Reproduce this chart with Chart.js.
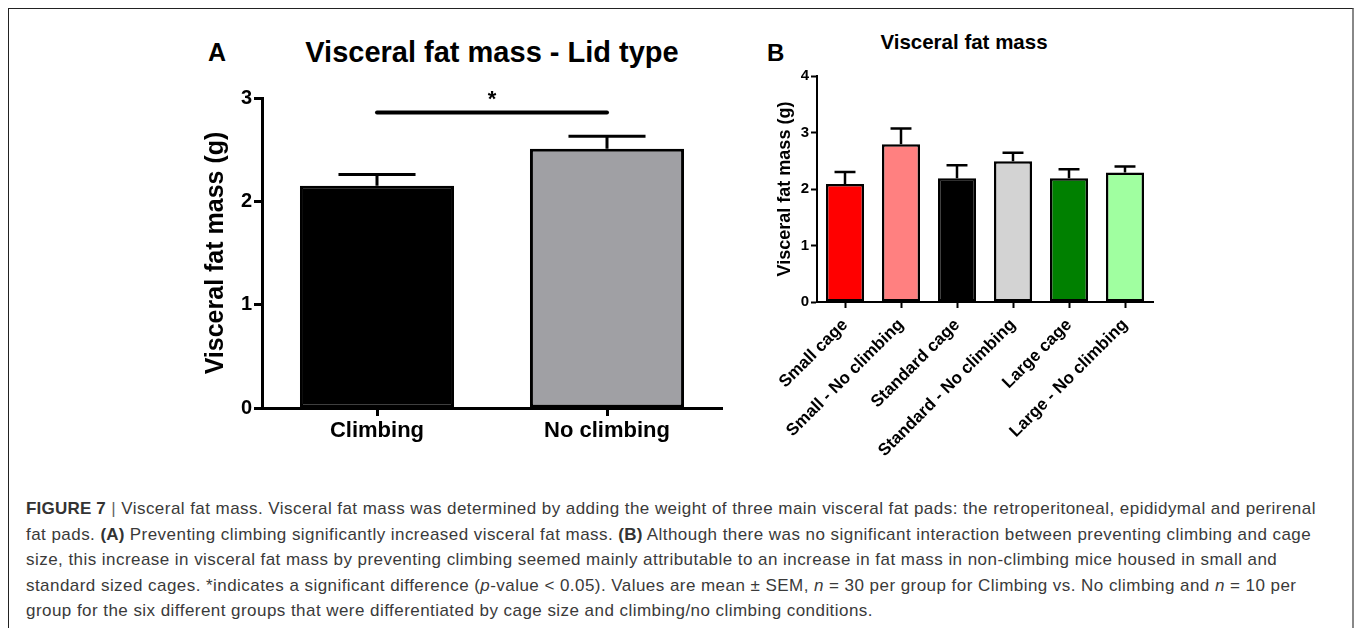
<!DOCTYPE html>
<html>
<head>
<meta charset="utf-8">
<script src="https://cdn.jsdelivr.net/npm/chart.js@4"></script>
<style>
  body { margin: 0; background: #fff; width: 1354px; height: 628px; overflow: hidden; position: relative; font-family: "Liberation Sans", Arial, sans-serif; }
  .frame { position: absolute; left: 8px; top: 8px; width: 1343px; height: 700px; border-top: 1.5px solid #222; border-left: 1.5px solid #222; border-right: 2px solid #888; }
  .lbl { position: absolute; font-weight: bold; color: #000; white-space: nowrap; line-height: 1; }
  #wrapA { position: absolute; left: 190px; top: 0; width: 540px; height: 470px; }
  #wrapB { position: absolute; left: 750px; top: 0; width: 420px; height: 470px; }
  .caption { position: absolute; left: 26px; top: 496px; font-size: 17px; letter-spacing: 0.45px; line-height: 25.5px; color: #3a3a3a; white-space: nowrap; }
  .caption b { color: #333; letter-spacing: 0.2px; }
</style>
</head>
<body>
<div class="frame"></div>

<div class="lbl" style="left:208px; top:40px; font-size:25px;">A</div>
<div class="lbl" style="left:492px; top:38px; font-size:29px; transform:translateX(-50%);">Visceral fat mass - Lid type</div>
<div class="lbl" style="left:767px; top:41px; font-size:24px;">B</div>
<div class="lbl" style="left:964px; top:32px; font-size:20.5px; transform:translateX(-50%);">Visceral fat mass</div>

<div id="wrapA"><canvas id="chartA"></canvas></div>
<div id="wrapB"><canvas id="chartB"></canvas></div>

<div class="caption">
<b>FIGURE 7</b> <span style="color:#666">|</span> Visceral fat mass. Visceral fat mass was determined by adding the weight of three main visceral fat pads: the retroperitoneal, epididymal and perirenal<br>
fat pads. <b>(A)</b> Preventing climbing significantly increased visceral fat mass. <b>(B)</b> Although there was no significant interaction between preventing climbing and cage<br>
size, this increase in visceral fat mass by preventing climbing seemed mainly attributable to an increase in fat mass in non-climbing mice housed in small and<br>
standard sized cages. *indicates a significant difference (<i>p</i>-value &lt; 0.05). Values are mean ± SEM, <i>n</i> = 30 per group for Climbing vs. No climbing and <i>n</i> = 10 per<br>
group for the six different groups that were differentiated by cage size and climbing/no climbing conditions.
</div>

<script>
// panel A: lid type
const lidLabels = ['Climbing', 'No climbing'];
const lidMeans = [2.15, 2.51];
const lidSem = [0.11, 0.12];
const lidColors = ['#000000', '#a0a0a4'];
const lidTicks = [0, 1, 2, 3];
const sigPair = [0, 1];
const sigValue = 2.86;

// panel B: cage size
const cageLabels = ['Small cage', 'Small - No climbing', 'Standard cage', 'Standard - No climbing', 'Large cage', 'Large - No climbing'];
const cageMeans = [2.09, 2.79, 2.19, 2.49, 2.19, 2.29];
const cageSem = [0.21, 0.28, 0.23, 0.15, 0.16, 0.11];
const cageColors = ['#ff0000', '#ff8080', '#000000', '#d3d3d3', '#008000', '#a0ffa0'];
const cageTicks = [0, 1, 2, 3, 4];

Chart.defaults.font.family = '"Liberation Sans", Arial, sans-serif';
Chart.defaults.font.weight = 'bold';
Chart.defaults.color = '#000';

// sem above the bar, GraphPad style
const errorBars = {
  id: 'errorBars',
  afterDatasetsDraw(chart, args, opts) {
    const ctx = chart.ctx;
    const meta = chart.getDatasetMeta(0);
    const y = chart.scales.y;
    ctx.save();
    ctx.strokeStyle = '#000';
    ctx.lineWidth = opts.lineWidth;
    ctx.lineCap = 'butt';
    meta.data.forEach((bar, i) => {
      const top = y.getPixelForValue(opts.means[i] + opts.sem[i]);
      const half = bar.width * opts.cap / 2;
      ctx.beginPath();
      ctx.moveTo(bar.x, bar.y);
      ctx.lineTo(bar.x, top);
      ctx.moveTo(bar.x - half, top);
      ctx.lineTo(bar.x + half, top);
      ctx.stroke();
    });
    if (opts.sig) {
      const a = meta.data[opts.sig.pair[0]], b = meta.data[opts.sig.pair[1]];
      const sy = y.getPixelForValue(opts.sig.value);
      ctx.lineWidth = 4;
      ctx.lineCap = 'round';
      ctx.beginPath();
      ctx.moveTo(a.x, sy);
      ctx.lineTo(b.x, sy);
      ctx.stroke();
      ctx.fillStyle = '#000';
      ctx.font = 'bold 22px "Liberation Sans", Arial, sans-serif';
      ctx.textAlign = 'center';
      ctx.textBaseline = 'bottom';
      ctx.fillText('*', (a.x + b.x) / 2, sy - 2);
    }
    ctx.restore();
  }
};

function fixWidth(w) { return s => { s.width = w; }; }
function fixHeight(h) { return s => { s.height = h; }; }

new Chart(document.getElementById('chartA'), {
  type: 'bar',
  data: {
    labels: lidLabels,
    datasets: [{
      data: lidMeans,
      backgroundColor: lidColors,
      borderColor: '#000',
      borderWidth: 3,
      borderSkipped: false,
      barPercentage: 0.67,
      categoryPercentage: 1
    }]
  },
  options: {
    responsive: true,
    maintainAspectRatio: false,
    animation: false,
    layout: { padding: { top: 98, right: 8, bottom: 0, left: 0 } },
    plugins: {
      legend: { display: false },
      tooltip: { enabled: false },
      errorBars: { means: lidMeans, sem: lidSem, cap: 0.5, lineWidth: 3, sig: { pair: sigPair, value: sigValue } }
    },
    scales: {
      x: {
        afterFit: fixHeight(62),
        grid: { offset: false, drawOnChartArea: false, tickLength: 8, tickWidth: 3, tickColor: '#000' },
        border: { color: '#000', width: 3 },
        ticks: { font: { size: 22 }, padding: 2, color: '#000' }
      },
      y: {
        min: 0, max: 3,
        afterFit: fixWidth(72),
        afterBuildTicks: s => { s.ticks = lidTicks.map(v => ({ value: v })); },
        grid: { drawOnChartArea: false, tickLength: 8, tickWidth: 3, tickColor: '#000' },
        border: { color: '#000', width: 3 },
        ticks: { font: { size: 20 }, padding: 2, color: '#000' },
        title: { display: true, text: 'Visceral fat mass (g)', font: { size: 25 }, padding: { top: 11 }, color: '#000' }
      }
    }
  },
  plugins: [errorBars]
});

new Chart(document.getElementById('chartB'), {
  type: 'bar',
  data: {
    labels: cageLabels,
    datasets: [{
      data: cageMeans,
      backgroundColor: cageColors,
      borderColor: '#000',
      borderWidth: 2.5,
      borderSkipped: false,
      barPercentage: 0.68,
      categoryPercentage: 1
    }]
  },
  options: {
    responsive: true,
    maintainAspectRatio: false,
    animation: false,
    layout: { padding: { top: 76, right: 17, bottom: 0, left: 0 } },
    plugins: {
      legend: { display: false },
      tooltip: { enabled: false },
      errorBars: { means: cageMeans, sem: cageSem, cap: 0.55, lineWidth: 2.5 }
    },
    scales: {
      x: {
        afterFit: fixHeight(168),
        grid: { offset: false, drawOnChartArea: false, tickLength: 6, tickWidth: 2, tickColor: '#000' },
        border: { color: '#000', width: 2 },
        ticks: { font: { size: 17 }, padding: 7, minRotation: 45, maxRotation: 45, autoSkip: false, color: '#000' }
      },
      y: {
        min: 0, max: 4,
        afterFit: fixWidth(67),
        afterBuildTicks: s => { s.ticks = cageTicks.map(v => ({ value: v })); },
        grid: { drawOnChartArea: false, tickLength: 6, tickWidth: 2, tickColor: '#000' },
        border: { color: '#000', width: 2 },
        ticks: { font: { size: 15 }, padding: 2, color: '#000' },
        title: { display: true, text: 'Visceral fat mass (g)', font: { size: 18 }, padding: { top: 24 }, color: '#000' }
      }
    }
  },
  plugins: [errorBars]
});
</script>
</body>
</html>
